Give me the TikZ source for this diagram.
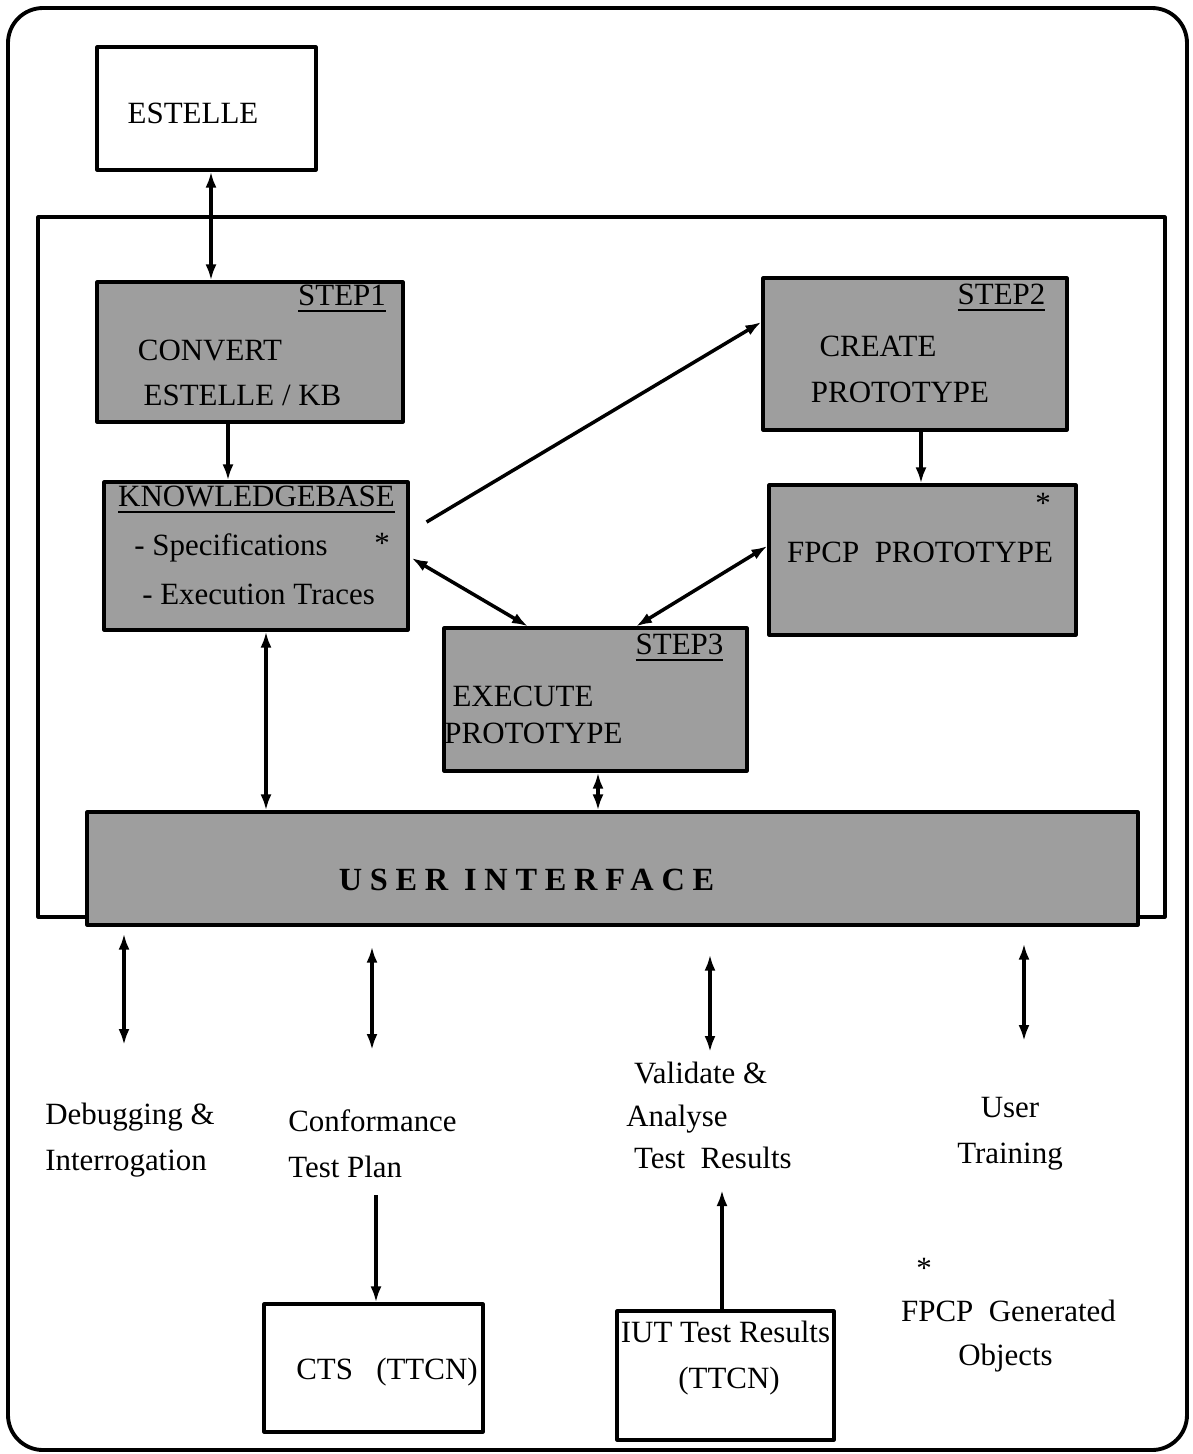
\documentclass[tikz,border=0pt]{standalone}
\usepackage{fontspec}
\setmainfont{Liberation Serif}
\usetikzlibrary{arrows.meta}
\tikzset{
  plainbox/.style={draw, line width=0.9pt, fill=white, inner sep=0pt},
  greybox/.style={plainbox, fill=black!38},
  lbl/.style={inner sep=0pt},
  link/.style={line width=1pt}
}
\begin{document}
\begin{tikzpicture}[font=\fontsize{8.8}{13}\selectfont, line join=round, >={Latex[length=1.6mm,width=1.1mm]}]
			\useasboundingbox (0,0) rectangle (11.93,-14.54);
			\draw[line width=1.1pt, rounded corners=0.35cm] (0.08,-0.08) rectangle (11.87,-14.50);
			\draw[line width=0.9pt] (0.38,-2.17) rectangle (11.65,-9.17);
			% boxes
			\node[plainbox, minimum width=2.19cm, minimum height=1.23cm] (estelle) at (2.065,-1.085) {};
			\node[greybox, minimum width=3.06cm, minimum height=1.40cm] (step1) at (2.50,-3.52) {};
			\node[greybox, minimum width=3.04cm, minimum height=1.48cm] (kb) at (2.56,-5.56) {};
			\node[greybox, minimum width=3.04cm, minimum height=1.52cm] (step2) at (9.15,-3.54) {};
			\node[greybox, minimum width=3.07cm, minimum height=1.50cm] (fpcp) at (9.225,-5.60) {};
			\node[greybox, minimum width=3.03cm, minimum height=1.43cm] (step3) at (5.955,-6.995) {};
			\node[greybox, minimum width=10.51cm, minimum height=1.13cm] (ui) at (6.125,-8.685) {};
			\node[plainbox, minimum width=2.19cm, minimum height=1.28cm] (cts) at (3.735,-13.68) {};
			\node[plainbox, minimum width=2.17cm, minimum height=1.29cm] (iut) at (7.255,-13.755) {};
			% texts
			\node[lbl] (t-est) at (1.93,-1.13) {ESTELLE};
			\node[lbl] (t-s1) at (3.42,-2.99) {\underline{STEP1}};
			\node[lbl] (t-conv) at (2.10,-3.50) {CONVERT};
			\node[lbl] (t-eskb) at (2.425,-3.95) {ESTELLE / KB};
			\node[lbl] (t-kb) at (2.565,-5.00) {\underline{KNOWLEDGEBASE}};
			\node[lbl] (t-spec) at (2.31,-5.48) {- Specifications};
			\node[lbl] (t-star1) at (3.82,-5.43) {*};
			\node[lbl] (t-trac) at (2.585,-5.94) {- Execution Traces};
			\node[lbl] (t-s2) at (10.015,-2.98) {\underline{STEP2}};
			\node[lbl] (t-crea) at (8.78,-3.46) {CREATE};
			\node[lbl] (t-prot2) at (9.00,-3.92) {PROTOTYPE};
			\node[lbl] (t-star2) at (10.43,-5.03) {*};
			\node[lbl] (t-fpcp) at (9.20,-5.52) {FPCP\ \ PROTOTYPE};
			\node[lbl] (t-s3) at (6.795,-6.48) {\underline{STEP3}};
			\node[lbl] (t-exec) at (5.23,-6.96) {EXECUTE};
			\node[lbl] (t-prot3) at (5.335,-7.33) {PROTOTYPE};
			\node[lbl] (t-ui) at (5.265,-8.80) {\fontsize{9.2}{11}\bfseries\addfontfeature{LetterSpace=24}USER\ INTERFACE};
			\node[lbl, align=left] (dbg) at (1.30,-11.40) {Debugging \&\\Interrogation};
			\node[lbl, align=left] (ctp) at (3.725,-11.44) {Conformance\\Test Plan};
			\node[lbl, align=left, font=\fontsize{8.8}{12}\selectfont] (val) at (7.09,-11.155) {\ Validate \&\\Analyse\\\ Test\ \ Results};
			\node[lbl, align=center] (usr) at (10.10,-11.335) {User\\Training};
			\node[lbl] (t-cts) at (3.87,-13.72) {CTS\ \ \ (TTCN)};
			\node[lbl] (t-iut1) at (7.255,-13.32) {IUT Test Results};
			\node[lbl] (t-iut2) at (7.29,-13.81) {(TTCN)};
			\node[lbl] (t-star3) at (9.24,-12.68) {*};
			\node[lbl] (t-gen) at (10.085,-13.11) {FPCP\ \ Generated};
			\node[lbl] (t-obj) at (10.055,-13.58) {Objects};
			% connectors
			\draw[<->, link] ([xshift=0.45mm]estelle.south) -- ([xshift=0.45mm]estelle.south |- step1.north);
			\draw[->, link] ([xshift=-2.2mm]step1.south) -- ([xshift=-2.2mm]step1.south |- kb.north);
			\draw[->, link] ([xshift=1.7mm,yshift=3.4mm]kb.east) -- ([yshift=3.2mm]step2.west);
			\draw[<->, link] ([xshift=0.2mm,yshift=-0.2mm]kb.east) -- ([xshift=-6.75mm]step3.north);
			\draw[<->, link] ([yshift=1.4mm]fpcp.west) -- ([xshift=4.05mm]step3.north);
			\draw[->, link] ([xshift=0.6mm]step2.south) -- ([xshift=0.6mm]step2.south |- fpcp.north);
			\draw[<->, link] ([xshift=1mm]kb.south) -- ([xshift=1mm]kb.south |- ui.north);
			\draw[<->, link] ([xshift=0.25mm]step3.south) -- ([xshift=0.25mm]step3.south |- ui.north);
			\coordinate (dbg-end) at (1.24,-10.45);
			\coordinate (ctp-end) at (3.72,-10.50);
			\coordinate (val-end) at (7.10,-10.52);
			\coordinate (usr-end) at (10.24,-10.41);
			\draw[<->, link, shorten <=0.7mm] (ui.south -| dbg-end) -- (dbg-end);
			\draw[<->, link, shorten <=2mm] (ui.south -| ctp-end) -- (ctp-end);
			\draw[<->, link, shorten <=2.8mm] (ui.south -| val-end) -- (val-end);
			\draw[<->, link, shorten <=1.7mm] (ui.south -| usr-end) -- (usr-end);
			\coordinate (ctp-out) at (3.76,-11.95);
			\coordinate (val-in) at (7.22,-11.90);
			\draw[->, link] (ctp-out) -- (ctp-out |- cts.north);
			\draw[->, link] (val-in |- iut.north) -- (val-in);
\end{tikzpicture}
\end{document}
